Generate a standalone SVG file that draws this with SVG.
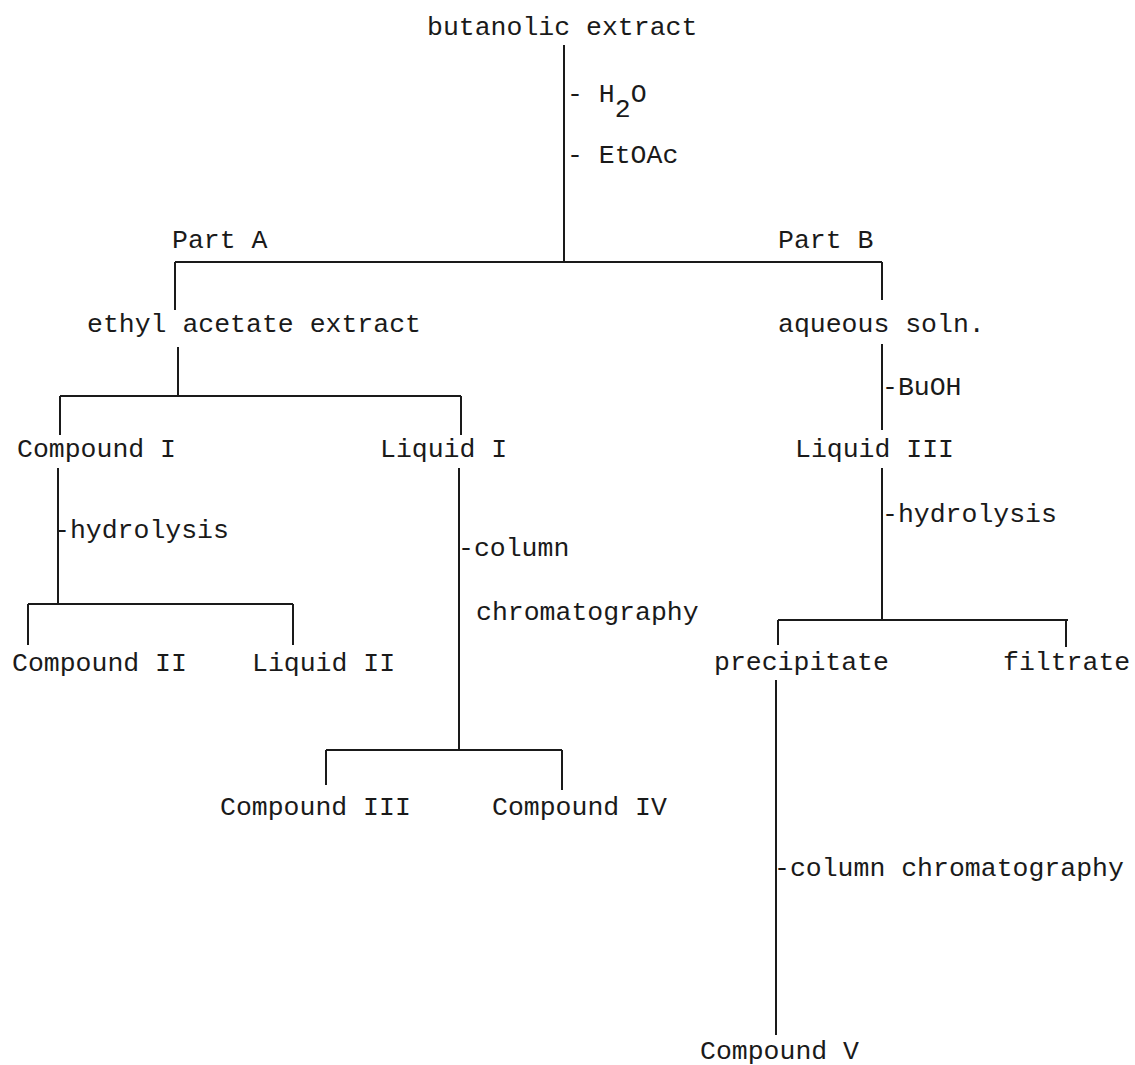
<svg xmlns="http://www.w3.org/2000/svg" width="1135" height="1065" viewBox="0 0 1135 1065">
<style>
text{font-family:"Liberation Mono","Courier New",monospace;font-size:26.5px;fill:#1a1a1a}
.c line{stroke:#1a1a1a;stroke-width:2;fill:none}
</style>
<rect width="1135" height="1065" fill="#fff"/>
<g class="c" id="connectors">
<line x1="564" y1="45" x2="564" y2="262"/>
<line x1="175" y1="262" x2="882" y2="262"/>
<line x1="175" y1="262" x2="175" y2="310"/>
<line x1="882" y1="262" x2="882" y2="300"/>
<line x1="178" y1="347" x2="178" y2="396"/>
<line x1="60" y1="396" x2="461" y2="396"/>
<line x1="60" y1="396" x2="60" y2="435"/>
<line x1="461" y1="396" x2="461" y2="435"/>
<line x1="58" y1="468" x2="58" y2="604"/>
<line x1="28" y1="604" x2="293" y2="604"/>
<line x1="28" y1="604" x2="28" y2="645"/>
<line x1="293" y1="604" x2="293" y2="645"/>
<line x1="459" y1="468" x2="459" y2="750"/>
<line x1="326" y1="750" x2="562" y2="750"/>
<line x1="326" y1="750" x2="326" y2="785"/>
<line x1="562" y1="750" x2="562" y2="790"/>
<line x1="882" y1="344" x2="882" y2="430"/>
<line x1="882" y1="468" x2="882" y2="620"/>
<line x1="778" y1="620" x2="1068" y2="620"/>
<line x1="778" y1="620" x2="778" y2="645"/>
<line x1="1066" y1="620" x2="1066" y2="647"/>
<line x1="776" y1="680" x2="776" y2="1035"/>
</g>
<g id="n-butanolic"><text x="427" y="35">butanolic extract</text></g>
<g id="l-h2o"><text x="567" y="102">- H<tspan dy="15">2</tspan><tspan dy="-15">O</tspan></text></g>
<g id="l-etoac"><text x="567" y="163">- EtOAc</text></g>
<g id="n-partA"><text x="172" y="248">Part A</text></g>
<g id="n-partB"><text x="778" y="248">Part B</text></g>
<g id="n-ethyl"><text x="87" y="332">ethyl acetate extract</text></g>
<g id="n-aqueous"><text x="778" y="332">aqueous soln.</text></g>
<g id="l-buoh"><text x="882" y="395">-BuOH</text></g>
<g id="n-comp1"><text x="17" y="457">Compound I</text></g>
<g id="n-liq1"><text x="380" y="457">Liquid I</text></g>
<g id="n-liq3"><text x="795" y="457">Liquid III</text></g>
<g id="l-hydro1"><text x="54" y="538">-hydrolysis</text></g>
<g id="l-col1"><text x="458" y="556">-column</text><text x="476" y="620">chromatography</text></g>
<g id="l-hydro2"><text x="882" y="522">-hydrolysis</text></g>
<g id="n-comp2"><text x="12" y="671">Compound II</text></g>
<g id="n-liq2"><text x="252" y="671">Liquid II</text></g>
<g id="n-precip"><text x="714" y="670">precipitate</text></g>
<g id="n-filtrate"><text x="1003" y="670">filtrate</text></g>
<g id="n-comp3"><text x="220" y="815">Compound III</text></g>
<g id="n-comp4"><text x="492" y="815">Compound IV</text></g>
<g id="l-col2"><text x="774" y="876">-column chromatography</text></g>
<g id="n-comp5"><text x="700" y="1059">Compound V</text></g>
</svg>
